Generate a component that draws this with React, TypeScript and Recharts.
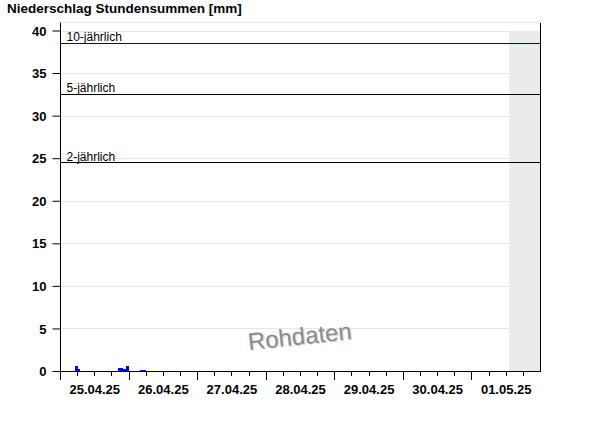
import {
  Bar,
  CartesianGrid,
  ComposedChart,
  ReferenceArea,
  ReferenceLine,
  XAxis,
  YAxis,
} from "recharts";

if (typeof document !== "undefined") document.body.style.margin = "0";

// hours counted from 25.04.25 00:00
const rainHours = [3, 4, 5, 6, 20, 21, 22, 23, 25, 28, 29, 30];
const rainMm = [0.1, 0.1, 0.6, 0.35, 0.45, 0.45, 0.3, 0.7, 0.1, 0.2, 0.2, 0.1];

const dayLabels = ["25.04.25", "26.04.25", "27.04.25", "28.04.25", "29.04.25", "30.04.25", "01.05.25"];
const xTicks = [
  0, 6, 12, 18, 24, 30, 36, 42, 48, 54, 60, 66, 72, 78, 84, 90, 96, 102, 108, 114, 120, 126, 132,
  138, 144, 150, 156, 162,
];
const yTicks = [0, 5, 10, 15, 20, 25, 30, 35, 40];

const thresholdValues = [24.55, 32.55, 38.55];
const thresholdLabels = ["2-jährlich", "5-jährlich", "10-jährlich"];
const thresholdColors = ["#000000", "#000000", "#000099"];

const futureStart = 157;
const futureEnd = 168;

const rows = rainHours.map((h, i) => ({ t: h + 0.5, mm: rainMm[i] }));

const FONT = "'Liberation Sans', Arial, sans-serif";
const HOUR_PX = 480 / 168;

function DayTick({ x, y, payload }: { x: number; y: number; payload: { value: number } }) {
  const h = payload.value;
  const px = Math.floor(x) + 0.5;
  const long = h % 24 === 0;
  return (
    <g>
      <line x1={px} x2={px} y1={y} y2={y + (long ? 8 : 4)} stroke="#000" shapeRendering="crispEdges" />
      {h % 24 === 12 && (
        <text x={x} y={y + 22} textAnchor="middle" fontSize={13} fontWeight="bold" fill="#000" fontFamily={FONT}>
          {dayLabels[Math.floor(h / 24)]}
        </text>
      )}
    </g>
  );
}

function HourBar({ x, y, width, height }: { x: number; y: number; width: number; height: number }) {
  const c = x + width / 2;
  const x0 = Math.round(c - HOUR_PX / 2);
  const x1 = Math.round(c + HOUR_PX / 2);
  const bottom = y + height;
  const top = Math.min(Math.round(y), Math.round(bottom) - 1);
  return <rect x={x0} y={top} width={x1 - x0} height={Math.round(bottom) - top} fill="#0000ff" />;
}

function ThresholdLabel({ viewBox, text }: { viewBox?: { x: number; y: number }; text: string }) {
  if (!viewBox) return null;
  return (
    <text x={viewBox.x + 6} y={viewBox.y - 2} fontSize={12} fill="#000" fontFamily={FONT}>
      {text}
    </text>
  );
}

export default function App() {
  return (
    <div style={{ position: "relative", width: 600, height: 426, fontFamily: FONT }}>
      <div
        style={{
          position: "absolute",
          left: 7,
          top: 1,
          fontSize: 13.5,
          fontWeight: "bold",
          color: "#000",
        }}
      >
        Niederschlag Stundensummen [mm]
      </div>
      <ComposedChart
        width={600}
        height={426}
        data={rows}
        margin={{ top: 22.5, right: 59.5, bottom: 24.5, left: 0 }}
        style={{ fontFamily: FONT }}
      >
        <CartesianGrid stroke="#e6e6e6" vertical={false} shapeRendering="crispEdges" />
        <ReferenceArea x1={futureStart} x2={futureEnd} y1={0} y2={40} fill="#ebebeb" fillOpacity={1} stroke="none" />
        <XAxis
          type="number"
          dataKey="t"
          domain={[0, 168]}
          ticks={xTicks}
          interval={0}
          height={30}
          stroke="#000"
          tickLine={false}
          tickSize={0}
          tickMargin={0}
          tick={(p: unknown) => <DayTick {...(p as { x: number; y: number; payload: { value: number } })} />}
        />
        <YAxis
          type="number"
          domain={[0, 41]}
          ticks={yTicks}
          interval={0}
          width={60.5}
          stroke="#000"
          tickSize={8}
          tickMargin={6}
          tick={{ fill: "#000", fontSize: 13, fontWeight: "bold" }}
        />
        <ReferenceLine x={168} stroke="#000" shapeRendering="crispEdges" />
        {thresholdValues.map((v, i) => (
          <ReferenceLine
            key={thresholdLabels[i]}
            y={v}
            stroke={thresholdColors[i]}
            strokeOpacity={1}
            shapeRendering="crispEdges"
            label={(p: unknown) => <ThresholdLabel {...(p as object)} text={thresholdLabels[i]} />}
          />
        ))}
        <Bar
          dataKey="mm"
          fill="#0000ff"
          barSize={3}
          isAnimationActive={false}
          shape={(p: unknown) => <HourBar {...(p as { x: number; y: number; width: number; height: number })} />}
        />
      </ComposedChart>
      <div
        style={{
          position: "absolute",
          left: 248,
          top: 328,
          fontSize: 24,
          color: "#8c8c8c",
          textShadow: "1px 1px 0 #d8d8d8",
          transform: "rotate(-6deg)",
          transformOrigin: "left center",
        }}
      >
        Rohdaten
      </div>
    </div>
  );
}
